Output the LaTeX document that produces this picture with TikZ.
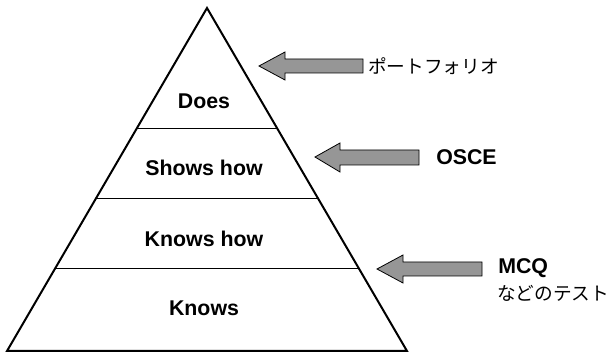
\documentclass[tikz,border=0pt]{standalone}
\usepackage{fontspec}
\setmainfont{Liberation Sans}
\newfontfamily\jpfont{Noto Sans CJK JP}
\usepackage{tikz}

\begin{document}
\begin{tikzpicture}[x=0.75pt,y=0.75pt,yscale=-1,xscale=1]
\useasboundingbox (0,0) rectangle (612,356);

%Shape: Triangle [id:pyramid]
\draw [line width=1.5pt ,line join=miter]  (207,8) -- (407,351) -- (7,351) -- cycle ;
%Straight Lines [id:level1]
\draw [line width=0.75pt]   (136.4,129) -- (277.6,129) ;
%Straight Lines [id:level2]
\draw [line width=0.75pt]   (95.6,199) -- (318.4,199) ;
%Straight Lines [id:level3]
\draw [line width=0.75pt]   (54.8,269) -- (359.2,269) ;

%Shape: Left Arrow [id:arrowportfolio]
\draw  [fill={rgb, 255:red, 150; green, 150; blue, 150 }  ,fill opacity=1 ,line width=0.6pt ] (363,59) -- (285,59) -- (285,52) -- (259,66) -- (285,80) -- (285,73) -- (363,73) -- cycle ;
%Shape: Left Arrow [id:arrowosce]
\draw  [fill={rgb, 255:red, 150; green, 150; blue, 150 }  ,fill opacity=1 ,line width=0.6pt ] (419,150) -- (340,150) -- (340,143) -- (315,157) -- (340,172) -- (340,165) -- (419,165) -- cycle ;
%Shape: Left Arrow [id:arrowmcq]
\draw  [fill={rgb, 255:red, 150; green, 150; blue, 150 }  ,fill opacity=1 ,line width=0.6pt ] (482,262) -- (403,262) -- (403,255) -- (377,269) -- (403,283) -- (403,276) -- (482,276) -- cycle ;

% Text Node
\draw (204,101) node (does) [inner sep=0.75pt] [font=\fontsize{16}{19}\selectfont\bfseries]  {Does};
% Text Node
\draw (204,168) node (showshow) [inner sep=0.75pt] [font=\fontsize{16}{19}\selectfont\bfseries]  {Shows how};
% Text Node
\draw (204,239) node (knowshow) [inner sep=0.75pt] [font=\fontsize{16}{19}\selectfont\bfseries]  {Knows how};
% Text Node
\draw (204,308) node (knows) [inner sep=0.75pt] [font=\fontsize{16}{19}\selectfont\bfseries]  {Knows};
% Text Node
\draw (367,66) node (portfolio) [anchor=west][inner sep=0.75pt] [font=\fontsize{14}{17}\selectfont\jpfont]  {ポートフォリオ};
% Text Node
\draw (435,157) node (osce) [anchor=west][inner sep=0.75pt] [font=\fontsize{16}{19}\selectfont\bfseries]  {OSCE};
% Text Node
\draw (497,268) node (mcq) [anchor=west][inner sep=0.75pt] [font=\fontsize{16}{19}\selectfont\bfseries]  {MCQ};
% Text Node
\draw (496,293) node (mcqtest) [anchor=west][inner sep=0.75pt] [font=\fontsize{14}{17}\selectfont\jpfont]  {などのテスト};

\end{tikzpicture}
\end{document}
